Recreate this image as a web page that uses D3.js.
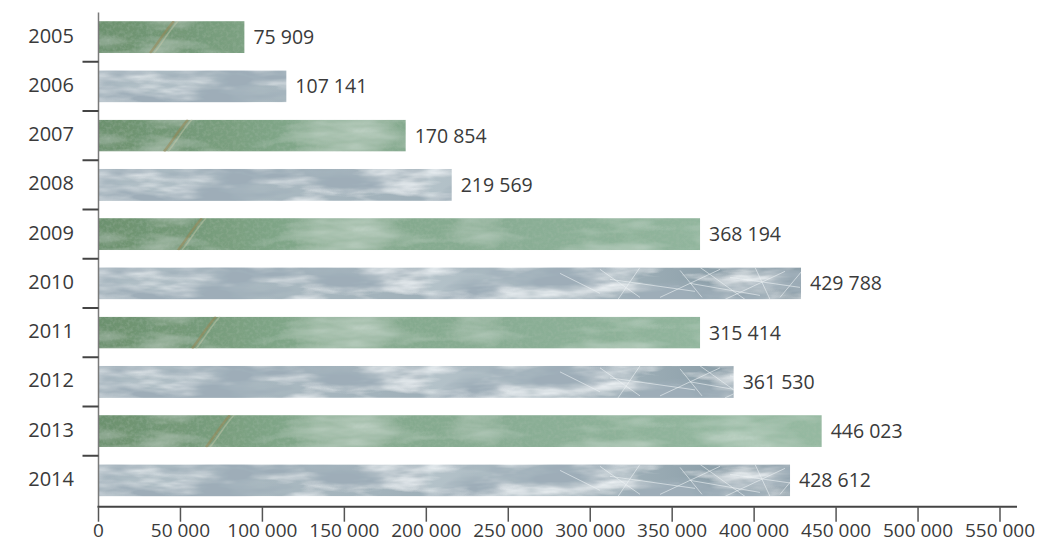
<html>
<head>
<meta charset="utf-8">
<style>
  body { margin: 0; background: #fff; }
  text { font-family: "Open Sans", sans-serif; fill: #3a3a3a; }
</style>
</head>
<body>
<script src="https://d3js.org/d3.v7.min.js"></script>
<div id="chart"></div>
<script>
// data
var years = ["2005", "2006", "2007", "2008", "2009", "2010", "2011", "2012", "2013", "2014"];
// printed values
var labelValues = [75909, 107141, 170854, 219569, 368194, 429788, 315414, 361530, 446023, 428612];
// bar lengths as drawn in the picture (they do not follow the printed values exactly)
var barValues = [89000, 114600, 187400, 215500, 367000, 428600, 367000, 387500, 441200, 421900];
var xTicks = [0, 50000, 100000, 150000, 200000, 250000, 300000, 350000, 400000, 450000, 500000, 550000];

var width = 1039, height = 542;
var svg = d3.select("#chart").append("svg")
    .attr("width", width).attr("height", height);

var fmt = d3.formatLocale({decimal: ",", thousands: "\u00a0", grouping: [3], currency: ["", ""]}).format(",d");

var x = d3.scaleLinear().domain([0, 550000]).range([98.5, 1000]);
var y = d3.scaleBand().domain(years).range([12.5, 505]).paddingInner(0.35).paddingOuter(0.175);
var bh = y.bandwidth();

var defs = svg.append("defs");

// ---- textures ----
function grad(id, stops) {
    var g = defs.append("linearGradient").attr("id", id)
        .attr("gradientUnits", "userSpaceOnUse")
        .attr("x1", 98.5).attr("x2", 1017).attr("y1", 0).attr("y2", 0);
    stops.forEach(function(s) { g.append("stop").attr("offset", s[0]).attr("stop-color", s[1]); });
}
grad("gGreen", [[0, "#6c916e"], [0.1, "#759a79"], [0.2, "#80a688"], [0.45, "#89ad94"], [0.7, "#93b79f"], [1, "#9cbea6"]]);
grad("gGrey", [[0, "#b2c0c7"], [0.2, "#a9b8c0"], [0.35, "#a0b0b9"], [0.36, "#b4c2c9"], [0.55, "#a3b3bb"], [0.68, "#8c9fa9"], [0.82, "#7f929c"], [1, "#93a5ae"]]);

var fg = defs.append("filter").attr("id", "fGreen")
    .attr("x", 0).attr("y", 0).attr("width", 1).attr("height", 1);
fg.append("feTurbulence").attr("type", "fractalNoise").attr("baseFrequency", "0.01 0.04")
    .attr("numOctaves", 4).attr("seed", 4).attr("result", "n1");
fg.append("feColorMatrix").attr("in", "n1").attr("type", "matrix")
    .attr("values", "0 0 0 0 0.76  0 0 0 0 0.85  0 0 0 0 0.8  1.2 0 0 0 -0.52").attr("result", "light");
fg.append("feTurbulence").attr("type", "fractalNoise").attr("baseFrequency", "0.3 0.3")
    .attr("numOctaves", 2).attr("seed", 11).attr("result", "n2");
fg.append("feColorMatrix").attr("in", "n2").attr("type", "matrix")
    .attr("values", "0 0 0 0 0.4  0 0 0 0 0.52  0 0 0 0 0.42  0.6 0 0 0 -0.25").attr("result", "dark");
var fgm = fg.append("feMerge").attr("result", "m");
fgm.append("feMergeNode").attr("in", "SourceGraphic");
fgm.append("feMergeNode").attr("in", "light");
fgm.append("feMergeNode").attr("in", "dark");
fg.append("feComposite").attr("in", "m").attr("in2", "SourceAlpha").attr("operator", "in");

var fr = defs.append("filter").attr("id", "fGrey")
    .attr("x", 0).attr("y", 0).attr("width", 1).attr("height", 1);
fr.append("feTurbulence").attr("type", "fractalNoise").attr("baseFrequency", "0.011 0.045")
    .attr("numOctaves", 4).attr("seed", 2).attr("result", "n1");
fr.append("feColorMatrix").attr("in", "n1").attr("type", "matrix")
    .attr("values", "0 0 0 0 0.34  0 0 0 0 0.42  0 0 0 0 0.48  3.2 0 0 0 -1.25").attr("result", "dark");
fr.append("feTurbulence").attr("type", "fractalNoise").attr("baseFrequency", "0.014 0.06")
    .attr("numOctaves", 4).attr("seed", 9).attr("result", "n2");
fr.append("feColorMatrix").attr("in", "n2").attr("type", "matrix")
    .attr("values", "0 0 0 0 0.9  0 0 0 0 0.93  0 0 0 0 0.95  2.4 0 0 0 -1.0").attr("result", "white");
var frm = fr.append("feMerge").attr("result", "m");
frm.append("feMergeNode").attr("in", "SourceGraphic");
frm.append("feMergeNode").attr("in", "white");
frm.append("feMergeNode").attr("in", "dark");
fr.append("feComposite").attr("in", "m").attr("in2", "SourceAlpha").attr("operator", "in");

defs.append("filter").attr("id", "soft").append("feGaussianBlur").attr("stdDeviation", 0.7);

// crack lines on the grey stone (texture decoration)
var cracks = [[600, 2, 640, 30], [640, 0, 618, 32], [680, 3, 702, 30], [700, 0, 745, 32], [725, 32, 785, 4],
              [755, 0, 770, 32], [610, 12, 695, 24], [780, 30, 805, 0], [660, 30, 720, 2], [730, 10, 800, 20],
              [560, 6, 600, 26], [690, 16, 760, 28]];

// ---- bars ----
var bars = svg.selectAll(".bar").data(years).enter().append("g")
    .attr("class", "bar")
    .attr("transform", function(d) { return "translate(0," + y(d) + ")"; });

bars.append("clipPath").attr("id", function(d, i) { return "clip" + i; })
    .append("rect")
    .attr("x", x(0)).attr("y", 0)
    .attr("width", function(d, i) { return x(barValues[i]) - x(0); })
    .attr("height", bh);

var tex = bars.append("g").attr("clip-path", function(d, i) { return "url(#clip" + i + ")"; });

tex.append("rect")
    .attr("x", 98.5).attr("y", 0).attr("width", 920).attr("height", bh)
    .attr("fill", function(d, i) { return i % 2 === 0 ? "url(#gGreen)" : "url(#gGrey)"; })
    .attr("filter", function(d, i) { return i % 2 === 0 ? "url(#fGreen)" : "url(#fGrey)"; });

// faint brown vein on the green stone
tex.filter(function(d, i) { return i % 2 === 0; }).each(function(d, i) {
    var vx = 150 + i * 14;
    var g = d3.select(this);
    g.append("path")
        .attr("d", "M" + vx + "," + bh + " C" + (vx + 8) + "," + (bh * 0.7) + " " + (vx + 14) + "," + (bh * 0.35) + " " + (vx + 24) + ",0")
        .attr("fill", "none").attr("stroke", "#9a8450").attr("stroke-width", 2.5).attr("opacity", 0.5)
        .attr("filter", "url(#soft)");
    g.append("path")
        .attr("d", "M" + (vx + 4) + "," + bh + " C" + (vx + 12) + "," + (bh * 0.7) + " " + (vx + 18) + "," + (bh * 0.35) + " " + (vx + 28) + ",0")
        .attr("fill", "none").attr("stroke", "#c9cbae").attr("stroke-width", 1.5).attr("opacity", 0.45)
        .attr("filter", "url(#soft)");
});

tex.filter(function(d, i) { return i % 2 === 1; }).each(function() {
    d3.select(this).selectAll("line").data(cracks).enter().append("line")
        .attr("x1", function(c) { return c[0]; }).attr("y1", function(c) { return c[1] * bh / 32; })
        .attr("x2", function(c) { return c[2]; }).attr("y2", function(c) { return c[3] * bh / 32; })
        .attr("stroke", "#eef3f5").attr("stroke-width", 1).attr("opacity", 0.6);
});

// value labels
bars.append("text")
    .attr("x", function(d, i) { return x(barValues[i]) + 9; })
    .attr("y", bh / 2 + 7)
    .attr("font-size", 19.5)
    .text(function(d, i) { return fmt(labelValues[i]); });

// ---- axes ----
svg.append("line")
    .attr("x1", x(0)).attr("x2", x(0)).attr("y1", 12.5).attr("y2", 507)
    .attr("stroke", "#7a7a7a").attr("stroke-width", 1.5);

var gap = y.step() - bh;
svg.selectAll(".ytick").data(years.slice(1)).enter().append("line")
    .attr("x1", x(0) - 16).attr("x2", x(0))
    .attr("y1", function(d) { return y(d) - gap / 2; })
    .attr("y2", function(d) { return y(d) - gap / 2; })
    .attr("stroke", "#444").attr("stroke-width", 2);

svg.selectAll(".ylab").data(years).enter().append("text")
    .attr("x", 74)
    .attr("y", function(d) { return y(d) + bh / 2 + 5.5; })
    .attr("text-anchor", "end")
    .attr("font-size", 20)
    .text(function(d) { return d; });

svg.append("line")
    .attr("x1", x(0) - 1).attr("x2", 1017).attr("y1", 506.7).attr("y2", 506.7)
    .attr("stroke", "#444").attr("stroke-width", 2);

svg.selectAll(".xtick").data(xTicks).enter().append("line")
    .attr("x1", function(d) { return x(d); }).attr("x2", function(d) { return x(d); })
    .attr("y1", 506.7).attr("y2", 521.7)
    .attr("stroke", "#555").attr("stroke-width", 1.5);

svg.selectAll(".xlab").data(xTicks).enter().append("text")
    .attr("x", function(d) { return x(d); })
    .attr("y", 537)
    .attr("text-anchor", "middle")
    .attr("font-size", 19)
    .text(function(d) { return fmt(d); });
</script>
</body>
</html>
